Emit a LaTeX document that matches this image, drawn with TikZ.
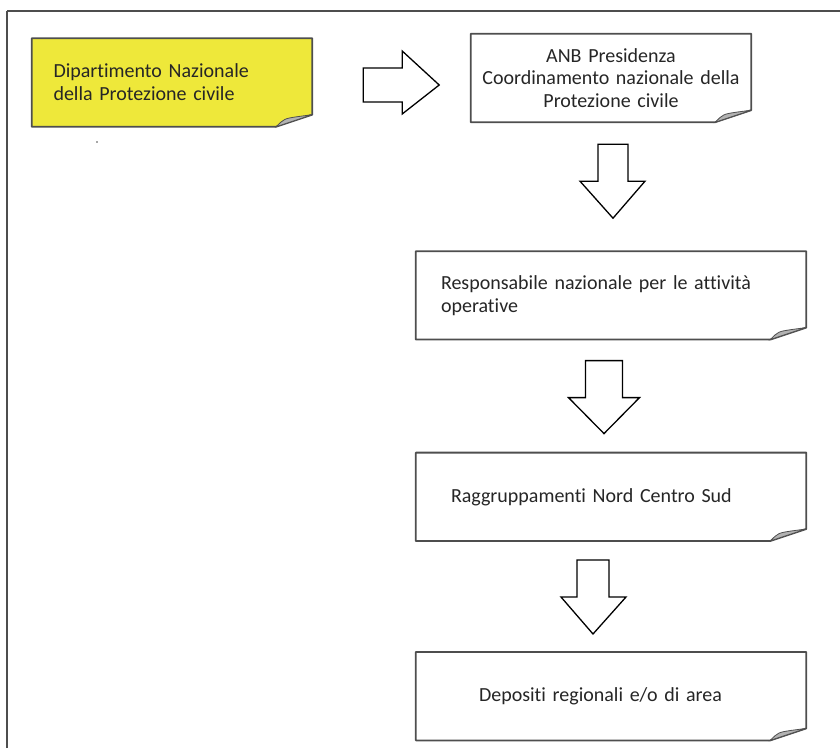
\documentclass[tikz,border=0pt]{standalone}
\usepackage{fontspec}
\setmainfont{Carlito}[Ligatures=CommonOff]
\usetikzlibrary{positioning,backgrounds}

\definecolor{notepaper}{RGB}{238,232,58}
\definecolor{edgegray}{RGB}{78,78,78}

% outline of a note with its curled lower right corner
\newcommand{\curlnote}[2][white]{%
  \begin{pgfonlayer}{background}
    \filldraw[paperline, fill=#1] (#2.north west) -- (#2.north east)
      -- ([yshift=12pt]#2.south east) -- ([xshift=-36pt]#2.south east)
      -- (#2.south west) -- cycle;
    \filldraw[foldline] ([yshift=12pt]#2.south east)
      -- ([xshift=-15pt,yshift=10pt]#2.south east)
      .. controls ([xshift=-28pt,yshift=8pt]#2.south east) .. ([xshift=-36pt]#2.south east)
      -- cycle;
  \end{pgfonlayer}}

\begin{document}
\begin{tikzpicture}[x=1pt, y=1pt, node distance=110pt,
    note/.style={rectangle, minimum height=88pt, inner ysep=0pt, align=left,
      text=black!85, font=\fontsize{20}{22.8}\selectfont},
    paperline/.style={draw=edgegray, line width=1.8pt, line join=round},
    foldline/.style={draw=edgegray, line width=0.8pt, fill=gray!60},
    blockarrow/.style={draw=black, line width=1.3pt, fill=white, line join=miter},
    frameline/.style={draw=edgegray, line width=1.8pt}]

  \useasboundingbox (0,0) rectangle (840,748);
  \draw[frameline] (7,0) -- (7,737);
  \draw[frameline] (7,737) -- (846,737);

  % Top row
  \node[note, minimum width=280pt, text width=237pt, inner xsep=21.5pt] (dpc) at (172,665.5)
    {Dipartimento Nazionale\\della Protezione civile};
  \node[note, minimum width=280pt, text width=270pt, inner xsep=5pt, align=center] (anb) at (611,670)
    {ANB Presidenza\\Coordinamento nazionale della\\Protezione civile};

  % Chain below the Presidenza
  \node[note, minimum width=390pt, text width=340pt, inner xsep=25pt] (resp) [below=129pt of anb]
    {Responsabile nazionale per le attivit\`a\\operative};
  \node[note, minimum width=390pt, text width=320pt, inner xsep=35pt] (raggr) [below=113pt of resp]
    {Raggruppamenti Nord Centro Sud};
  \node[note, minimum width=390pt, text width=264pt, inner xsep=63pt] (depos) [below=111pt of raggr]
    {Depositi regionali e/o di area};

  \curlnote[notepaper]{dpc}
  \curlnote{anb}
  \curlnote{resp}
  \curlnote{raggr}
  \curlnote{depos}

  \fill[black!70] (97,606) circle (0.9pt);

  % Block arrows
  \coordinate (r1) at ([xshift=51pt,yshift=-2.5pt]dpc.east);
  \coordinate (d1) at ([xshift=2pt,yshift=-22pt]anb.south);
  \coordinate (d2) at ([xshift=-7pt,yshift=-21pt]resp.south);
  \coordinate (d3) at ([xshift=-18pt,yshift=-19pt]raggr.south);

  \draw[blockarrow] (r1) ++(0,17) -- ++(39,0) -- ++(0,17) -- ++(37,-34)
    -- ++(-37,-29) -- ++(0,12) -- ++(-39,0) -- cycle;
  \draw[blockarrow] (d1) ++(-15,0) -- ++(30,0) -- ++(0,-37) -- ++(17,0)
    -- ++(-32,-37) -- ++(-33,37) -- ++(18,0) -- cycle;
  \draw[blockarrow] (d2) ++(-18.5,0) -- ++(37,0) -- ++(0,-37) -- ++(17,0)
    -- ++(-35.5,-36) -- ++(-35.5,36) -- ++(17,0) -- cycle;
  \draw[blockarrow] (d3) ++(-16,0) -- ++(32,0) -- ++(0,-37) -- ++(17,0)
    -- ++(-33,-37) -- ++(-32,37) -- ++(16,0) -- cycle;
\end{tikzpicture}
\end{document}
